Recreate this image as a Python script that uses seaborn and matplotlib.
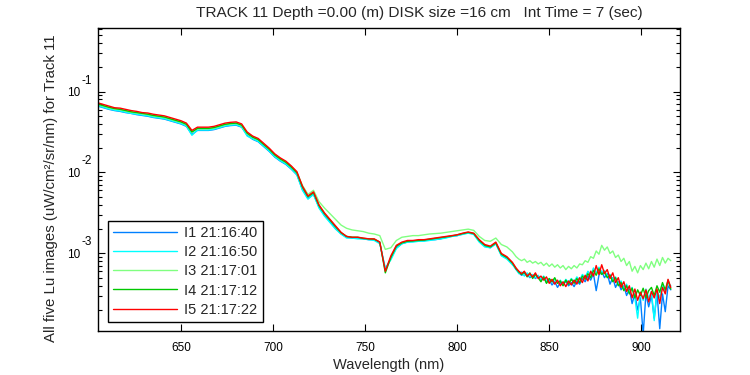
import numpy as np
import pandas as pd
import matplotlib
matplotlib.use("Agg")
import matplotlib.pyplot as plt
import matplotlib.transforms as mtransforms
import seaborn as sns
from matplotlib.ticker import LogLocator, NullFormatter

# ---------------- data (log10 of Lu) ----------------
# sample wavelengths: 3 nm spacing up to 830 nm, 1.5 nm spacing in the noisy tail
wavelength = list(range(605, 831, 3)) + list(np.arange(832, 916.1, 1.5))

log_lu_i1 = [-1.18, -1.20, -1.22, -1.235, -1.245, -1.26, -1.27, -1.285, -1.295, -1.305,
             -1.32, -1.33, -1.34, -1.36, -1.38, -1.40, -1.43, -1.53, -1.48, -1.48,
             -1.48, -1.47, -1.45, -1.43, -1.42, -1.415, -1.44, -1.54, -1.59, -1.62,
             -1.68, -1.74, -1.81, -1.86, -1.90, -1.96, -2.03, -2.21, -2.32, -2.27,
             -2.43, -2.53, -2.61, -2.69, -2.76, -2.80, -2.81, -2.81, -2.82, -2.83,
             -2.83, -2.87, -3.20, -3.06, -2.93, -2.88, -2.86, -2.85, -2.85, -2.84,
             -2.83, -2.83, -2.82, -2.80, -2.79, -2.78, -2.76, -2.745, -2.76, -2.85,
             -2.91, -2.93, -2.88, -3.02, -3.06, -3.13,
             -3.20, -3.24, -3.27, -3.25, -3.26, -3.30, -3.27, -3.31, -3.28, -3.33,
             -3.30, -3.36, -3.33, -3.39, -3.35, -3.42, -3.36, -3.39, -3.34, -3.40,
             -3.36, -3.41, -3.34, -3.38, -3.31, -3.35, -3.28, -3.33, -3.25, -3.46,
             -3.27, -3.22, -3.30, -3.25, -3.38, -3.30, -3.42, -3.35, -3.45, -3.40,
             -3.52, -3.44, -3.62, -3.50, -3.70, -3.55, -4.00, -3.50, -3.66, -3.52,
             -3.80, -3.48, -3.93, -3.50, -3.72, -3.40, -3.45]

log_lu_i2 = [-1.175, -1.195, -1.215, -1.23, -1.24, -1.255, -1.27, -1.28, -1.29, -1.30,
             -1.315, -1.325, -1.335, -1.355, -1.375, -1.395, -1.425, -1.54, -1.475, -1.475,
             -1.475, -1.465, -1.445, -1.425, -1.415, -1.41, -1.435, -1.55, -1.585, -1.615,
             -1.675, -1.735, -1.805, -1.855, -1.895, -1.955, -2.025, -2.22, -2.33, -2.27,
             -2.44, -2.54, -2.62, -2.70, -2.76, -2.81, -2.81, -2.82, -2.82, -2.83,
             -2.84, -2.88, -3.18, -3.08, -2.94, -2.88, -2.86, -2.86, -2.85, -2.85,
             -2.84, -2.83, -2.82, -2.81, -2.79, -2.78, -2.765, -2.75, -2.765, -2.86,
             -2.92, -2.93, -2.88, -3.03, -3.07, -3.14,
             -3.19, -3.25, -3.23, -3.28, -3.24, -3.29, -3.26, -3.30, -3.27, -3.32,
             -3.28, -3.34, -3.31, -3.36, -3.32, -3.37, -3.33, -3.38, -3.32, -3.36,
             -3.31, -3.35, -3.29, -3.33, -3.26, -3.30, -3.22, -3.27, -3.18, -3.24,
             -3.17, -3.23, -3.21, -3.28, -3.26, -3.33, -3.29, -3.38, -3.34, -3.44,
             -3.38, -3.48, -3.42, -3.55, -3.80, -3.48, -3.58, -3.44, -3.55, -3.47,
             -3.83, -3.46, -3.55, -3.40, -3.48, -3.36, -3.40]

log_lu_i3 = [-1.16, -1.18, -1.20, -1.215, -1.225, -1.24, -1.255, -1.265, -1.275, -1.285,
             -1.30, -1.31, -1.32, -1.34, -1.36, -1.38, -1.41, -1.50, -1.46, -1.46,
             -1.46, -1.45, -1.43, -1.41, -1.40, -1.395, -1.42, -1.52, -1.565, -1.595,
             -1.65, -1.71, -1.78, -1.83, -1.87, -1.93, -2.00, -2.16, -2.27, -2.22,
             -2.36, -2.44, -2.51, -2.58, -2.65, -2.69, -2.71, -2.72, -2.73, -2.75,
             -2.76, -2.78, -2.95, -2.93, -2.84, -2.80, -2.79, -2.78, -2.78, -2.77,
             -2.76, -2.755, -2.75, -2.74, -2.73, -2.72, -2.71, -2.70, -2.715, -2.79,
             -2.84, -2.85, -2.81, -2.89, -2.92, -2.98,
             -3.04, -3.07, -3.09, -3.07, -3.11, -3.09, -3.12, -3.10, -3.13, -3.11,
             -3.15, -3.12, -3.16, -3.13, -3.17, -3.14, -3.18, -3.15, -3.20, -3.16,
             -3.19, -3.15, -3.18, -3.13, -3.14, -3.09, -3.11, -3.04, -3.06, -2.97,
             -3.01, -2.90, -2.96, -2.92, -3.00, -2.97, -3.05, -3.02, -3.10, -3.06,
             -3.15, -3.10, -3.22, -3.16, -3.24, -3.15, -3.20, -3.12, -3.19, -3.10,
             -3.17, -3.07, -3.15, -3.05, -3.12, -3.06, -3.09]

log_lu_i4 = [-1.155, -1.175, -1.195, -1.21, -1.22, -1.235, -1.25, -1.26, -1.27, -1.28,
             -1.295, -1.305, -1.315, -1.335, -1.355, -1.375, -1.405, -1.50, -1.455, -1.455,
             -1.455, -1.445, -1.425, -1.405, -1.395, -1.39, -1.415, -1.515, -1.565, -1.595,
             -1.655, -1.715, -1.785, -1.835, -1.875, -1.935, -2.005, -2.18, -2.30, -2.25,
             -2.41, -2.51, -2.59, -2.67, -2.745, -2.79, -2.80, -2.80, -2.815, -2.82,
             -2.825, -2.86, -3.24, -3.05, -2.91, -2.87, -2.85, -2.845, -2.84, -2.835,
             -2.825, -2.815, -2.805, -2.795, -2.785, -2.77, -2.755, -2.74, -2.755, -2.84,
             -2.90, -2.92, -2.87, -3.01, -3.05, -3.12,
             -3.19, -3.23, -3.26, -3.23, -3.29, -3.24, -3.31, -3.26, -3.30, -3.35,
             -3.29, -3.37, -3.31, -3.35, -3.30, -3.37, -3.34, -3.40, -3.33, -3.38,
             -3.32, -3.37, -3.31, -3.36, -3.28, -3.32, -3.25, -3.30, -3.21, -3.27,
             -3.19, -3.26, -3.23, -3.30, -3.27, -3.35, -3.30, -3.40, -3.36, -3.46,
             -3.40, -3.50, -3.43, -3.55, -3.45, -3.52, -3.43, -3.55, -3.46, -3.42,
             -3.52, -3.40, -3.48, -3.36, -3.45, -3.33, -3.44]

log_lu_i5 = [-1.14, -1.16, -1.18, -1.20, -1.205, -1.22, -1.235, -1.245, -1.26, -1.265,
             -1.28, -1.29, -1.30, -1.32, -1.34, -1.36, -1.39, -1.48, -1.44, -1.44,
             -1.44, -1.43, -1.41, -1.39, -1.38, -1.375, -1.40, -1.50, -1.55, -1.58,
             -1.64, -1.70, -1.77, -1.82, -1.86, -1.92, -1.99, -2.17, -2.29, -2.24,
             -2.40, -2.50, -2.58, -2.66, -2.74, -2.79, -2.80, -2.80, -2.81, -2.82,
             -2.82, -2.86, -3.22, -3.03, -2.90, -2.86, -2.84, -2.84, -2.83, -2.83,
             -2.82, -2.81, -2.80, -2.79, -2.78, -2.77, -2.75, -2.735, -2.75, -2.83,
             -2.89, -2.91, -2.86, -3.00, -3.04, -3.11,
             -3.18, -3.22, -3.25, -3.22, -3.28, -3.25, -3.29, -3.24, -3.31, -3.28,
             -3.33, -3.29, -3.37, -3.32, -3.38, -3.33, -3.40, -3.35, -3.41, -3.34,
             -3.39, -3.33, -3.38, -3.30, -3.36, -3.27, -3.34, -3.22, -3.28, -3.15,
             -3.26, -3.14, -3.25, -3.20, -3.31, -3.24, -3.36, -3.30, -3.42, -3.35,
             -3.47, -3.40, -3.55, -3.44, -3.58, -3.48, -3.56, -3.45, -3.60, -3.47,
             -3.55, -3.44, -3.62, -3.42, -3.50, -3.32, -3.42]

series_labels = ["I1 21:16:40", "I2 21:16:50", "I3 21:17:01", "I4 21:17:12", "I5 21:17:22"]
series_colors = ["#0080ff", "#00ffff", "#80ff80", "#00c800", "#ff0000"]

title_text = "TRACK 11 Depth =0.00 (m) DISK size =16 cm   Int Time = 7 (sec)"
x_label = "Wavelength (nm)"
y_label = "All five Lu images (uW/cm\u00b2/sr/nm) for Track 11"
x_ticks = [650, 700, 750, 800, 850, 900]
y_ticks = [1e-3, 1e-2, 1e-1]
y_tick_exponents = ["-3", "-2", "-1"]

# ---------------- build table ----------------
all_logs = [log_lu_i1, log_lu_i2, log_lu_i3, log_lu_i4, log_lu_i5]
frames = []
for lab, lg in zip(series_labels, all_logs):
    frames.append(pd.DataFrame({"wl": wavelength, "lu": 10.0 ** np.array(lg), "img": lab}))
df = pd.concat(frames, ignore_index=True)

# ---------------- style ----------------
sns.set_theme(style="ticks")
plt.rcParams["font.family"] = ["Liberation Sans", "DejaVu Sans"]

fig = plt.figure(figsize=(7.5, 3.75), dpi=100)
ax = fig.add_axes([98 / 750, 1 - 331 / 375, 582 / 750, 303 / 375])

sns.lineplot(data=df, x="wl", y="lu", hue="img", palette=series_colors,
             hue_order=series_labels, estimator=None, sort=False,
             linewidth=1.0, ax=ax, legend=False)

ax.set_yscale("log")
ax.set_xlim(605, 921)
ax.set_ylim(1.1e-4, 0.61)
ax.set_xticks(x_ticks)
ax.set_xticklabels([str(t) for t in x_ticks])
ax.yaxis.set_minor_locator(LogLocator(base=10, subs=np.arange(2, 10), numticks=20))
ax.yaxis.set_minor_formatter(NullFormatter())
ax.set_yticks(y_ticks)
ax.set_yticklabels(["10"] * len(y_ticks))

ax.tick_params(axis="both", which="both", direction="in", top=True, right=True,
               labelsize=8.5, colors="black")
ax.tick_params(axis="x", which="major", length=5, width=0.8, pad=8)
ax.tick_params(axis="y", which="major", length=5, width=0.8, pad=13)
ax.tick_params(axis="y", which="minor", length=3, width=0.8)
for sp in ax.spines.values():
    sp.set_color("black")
    sp.set_linewidth(1.0)

# MATLAB-style raised exponents next to the "10" tick labels
exp_trans = mtransforms.offset_copy(ax.get_yaxis_transform(), fig=fig, x=0, y=11, units="dots")
for yv, ex in zip(y_ticks, y_tick_exponents):
    ax.text(-0.0275, yv, ex, transform=exp_trans, ha="left", va="center",
            fontsize=8.5, color="black", clip_on=False)

ax.set_xlabel(x_label, fontsize=10.5, labelpad=3)
ax.set_ylabel(y_label, fontsize=10.8)
ax.yaxis.set_label_coords(-0.068, 0.472)
fig.text(419 / 750, 1 - 13 / 375, title_text, ha="center", va="center", fontsize=11.1)

handles = [plt.Line2D([0], [0], color=c, lw=1.0) for c in series_colors]
leg = ax.legend(handles, series_labels, loc="lower left", bbox_to_anchor=(0.017, 0.03),
                borderaxespad=0, fancybox=False, framealpha=1, edgecolor="black",
                fontsize=10.5, handlelength=4.4, labelspacing=0.36, borderpad=0.35,
                handletextpad=0.5)
leg.get_frame().set_linewidth(1.0)

fig.savefig("out.png", dpi=100, facecolor="white")
